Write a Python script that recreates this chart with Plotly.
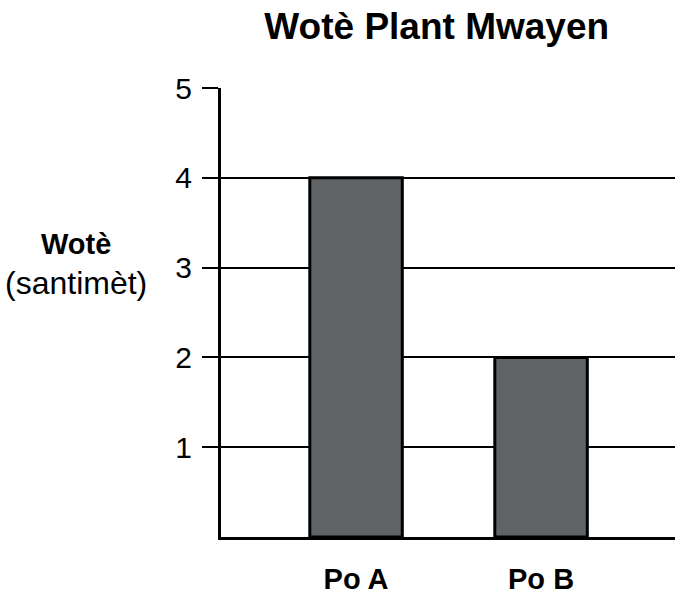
import plotly.graph_objects as go

categories = ["Po A", "Po B"]
values = [4, 2]
y_ticks = [1, 2, 3, 4, 5]

title_text = "Wotè Plant Mwayen"
y_title_bold = "Wotè"
y_title_unit = "(santimèt)"

FONT = "Liberation Sans, Arial, Helvetica, sans-serif"

fig = go.Figure()
fig.add_trace(go.Bar(
    x=categories,
    y=values,
    width=0.5,
    marker=dict(color="#5f6366", line=dict(color="black", width=3)),
))

fig.update_layout(
    width=675, height=594,
    margin=dict(l=221, r=0, t=88, b=57, autoexpand=False),
    paper_bgcolor="white", plot_bgcolor="white",
    font=dict(family=FONT, color="black"),
    showlegend=False,
    title=dict(text="<b>" + title_text + "</b>", x=0.647, xanchor="center",
               y=0.956, yanchor="middle", font=dict(size=37, family=FONT, color="black")),
)

fig.update_xaxes(
    type="category",
    range=[-0.73, 1.724],
    automargin=False,
    showline=True, linecolor="black", linewidth=3,
    showgrid=False, ticks="", ticklabelstandoff=14,
    tickfont=dict(size=29, family=FONT, color="black"),
    tickvals=categories,
    ticktext=["<b>" + c + "</b>" for c in categories],
)

fig.update_yaxes(
    range=[0, 5],
    automargin=False,
    tickvals=y_ticks,
    ticktext=[str(v) for v in y_ticks],
    showline=True, linecolor="black", linewidth=3,
    showgrid=True, gridcolor="black", gridwidth=1.5,
    ticks="outside", ticklen=16, tickwidth=1.5, tickcolor="black",
    ticklabelstandoff=4,
    tickfont=dict(size=30, family=FONT, color="black"),
    zeroline=False,
)

fig.add_annotation(
    xref="paper", yref="paper",
    x=-0.319, y=0.6526, xanchor="center", yanchor="middle",
    text="<b>" + y_title_bold + "</b>",
    showarrow=False,
    font=dict(size=29, family=FONT, color="black"),
)
fig.add_annotation(
    xref="paper", yref="paper",
    x=-0.319, y=0.5657, xanchor="center", yanchor="middle",
    text=y_title_unit,
    showarrow=False,
    font=dict(size=32, family=FONT, color="black"),
)

fig.write_html(
    "out.html",
    config={"displayModeBar": False},
    post_script="document.body.style.margin='0px';document.body.style.overflow='hidden';",
)
